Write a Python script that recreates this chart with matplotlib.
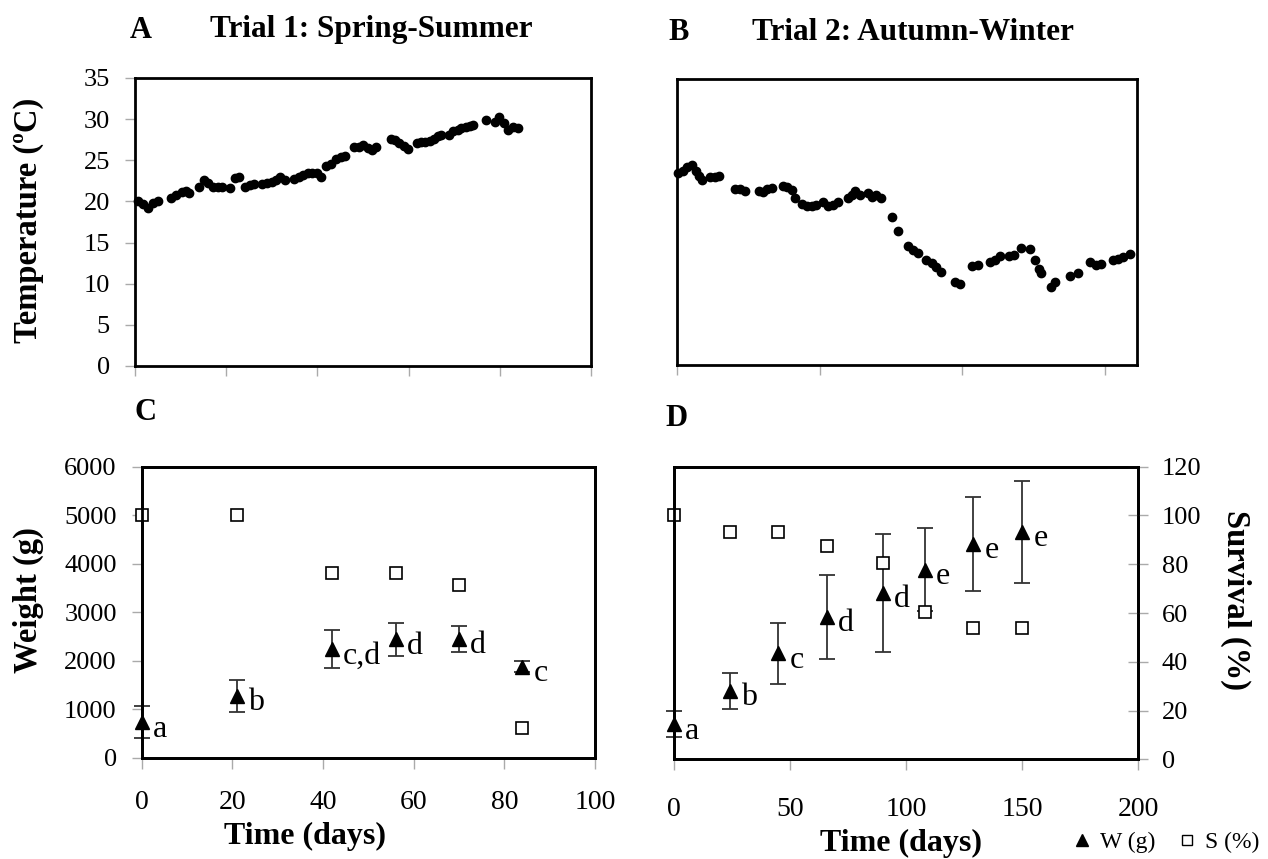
import matplotlib
matplotlib.use("Agg")
import matplotlib.pyplot as plt
from matplotlib.lines import Line2D

plt.rcParams['font.family'] = ['Liberation Serif', 'DejaVu Sans']

# Trial 1 temperature (day, degC)
t1_day = [0.7, 1.7, 2.9, 4.0, 5.0, 8.0, 9.1, 10.2, 11.1, 11.9, 14.0, 15.1, 16.0, 17.1,
          18.2, 19.0, 20.8, 21.9, 22.8, 24.1, 25.2, 26.1, 27.9, 29.0, 30.1, 31.0, 31.9,
          33.0, 34.8, 35.9, 36.8, 37.9, 38.9, 39.9, 40.8, 41.9, 42.9, 44.0, 45.1, 46.0,
          48.0, 49.1, 50.0, 51.1, 52.0, 52.9, 56.2, 57.1, 58.0, 58.9, 59.9, 61.9, 62.7,
          63.7, 64.6, 65.5, 66.4, 67.0, 68.8, 69.7, 70.8, 71.6, 72.6, 73.4, 74.2, 77.0,
          78.9, 79.9, 81.0, 81.9, 82.9, 84.0]
t1_temp = [20.0, 19.7, 19.2, 19.8, 20.1, 20.4, 20.8, 21.1, 21.3, 21.0, 21.8, 22.6, 22.2, 21.8,
           21.7, 21.8, 21.6, 22.8, 23.0, 21.8, 22.0, 22.1, 22.1, 22.2, 22.4, 22.6, 23.0,
           22.6, 22.7, 23.0, 23.2, 23.4, 23.4, 23.4, 23.0, 24.3, 24.6, 25.1, 25.4, 25.5,
           26.6, 26.6, 26.8, 26.5, 26.3, 26.6, 27.6, 27.5, 27.1, 26.7, 26.4, 27.1, 27.2,
           27.2, 27.4, 27.6, 27.9, 28.1, 28.1, 28.5, 28.7, 28.9, 29.1, 29.2, 29.3, 29.9,
           29.7, 30.2, 29.5, 28.7, 29.1, 28.9]

# Trial 2 temperature (day, degC)
t2_day = [0.6, 2.1, 3.7, 5.2, 6.8, 7.9, 8.7, 11.7, 13.4, 14.9, 20.4, 22.1, 23.9, 28.9,
          30.3, 31.5, 33.2, 37.1, 38.5, 40.2, 41.4, 43.7, 45.5, 47.2, 48.9, 51.3, 53.0,
          54.8, 56.5, 60.0, 61.5, 62.4, 64.1, 67.0, 68.5, 69.9, 71.4, 75.2, 77.5, 81.0,
          82.8, 84.5, 87.4, 89.2, 90.9, 92.4, 97.3, 99.1, 103.5, 105.5, 109.6, 111.3,
          113.1, 116.3, 118.0, 120.6, 123.8, 125.3, 126.8, 127.6, 131.1, 132.3, 137.5,
          140.4, 144.5, 146.9, 148.6, 152.7, 154.4, 156.2, 158.7]
t2_temp = [23.5, 23.8, 24.2, 24.5, 23.7, 23.1, 22.6, 23.0, 23.0, 23.1, 21.5, 21.5, 21.3, 21.3,
           21.2, 21.5, 21.6, 21.9, 21.8, 21.4, 20.4, 19.7, 19.4, 19.5, 19.6, 19.9, 19.4,
           19.6, 20.0, 20.4, 20.8, 21.3, 20.8, 21.1, 20.5, 20.8, 20.4, 18.1, 16.4, 14.6,
           14.1, 13.7, 12.9, 12.5, 12.0, 11.4, 10.2, 9.9, 12.1, 12.2, 12.6, 12.9,
           13.3, 13.3, 13.5, 14.3, 14.2, 12.9, 11.8, 11.3, 9.6, 10.1, 10.9,
           11.3, 12.6, 12.2, 12.4, 12.8, 13.0, 13.2, 13.6]

# Trial 1 growth and survival
c_day = [0, 21, 42, 56, 70, 84]
c_w = [740, 1280, 2240, 2445, 2455, 1880]
c_err = [330, 330, 395, 340, 270, 110]
c_s = [100, 100, 76.3, 76.3, 71.4, 12.2]
c_lab = ['a', 'b', 'c,d', 'd', 'd', 'c']

# Trial 2 growth and survival
d_day = [0, 24, 45, 66, 90, 108, 129, 150]
d_w = [720, 1400, 2175, 2920, 3410, 3890, 4420, 4660]
d_err = [270, 370, 630, 855, 1205, 845, 960, 1040]
d_s = [100, 93.3, 93.3, 87.5, 80.4, 60.3, 53.7, 53.7]
d_lab = ['a', 'b', 'c', 'd', 'd', 'e', 'e', 'e']

W, H = 1268, 859
fig = plt.figure(figsize=(W / 100, H / 100), dpi=100)


def box(x0, y0, x1, y1):
    return [x0 / W, 1 - y1 / H, (x1 - x0) / W, (y1 - y0) / H]


def style(ax):
    for s in ax.spines.values():
        s.set_linewidth(2)
        s.set_color('black')
    ax.tick_params(colors='black', labelsize=19, direction='out', length=7,
                   width=1, color='#aaaaaa', pad=11)


axA = fig.add_axes(box(135, 78, 591, 366))
axB = fig.add_axes(box(676.7, 79, 1136.7, 365))
axC = fig.add_axes(box(141.7, 466.7, 595, 758))
axD = fig.add_axes(box(674, 466.7, 1138.3, 759.3))

# A
axA.plot(t1_day, t1_temp, 'o', color='black', ms=6, clip_on=False)
axA.set_xlim(0, 100)
axA.set_ylim(0, 35)
axA.set_yticks(range(0, 36, 5))
axA.set_xticks(range(0, 101, 20))
axA.set_xticklabels([])
style(axA)

# B
axB.plot(t2_day, t2_temp, 'o', color='black', ms=6, clip_on=False)
axB.set_xlim(0, 161)
axB.set_ylim(0, 35)
axB.set_xticks([0, 50, 100, 150])
axB.set_xticklabels([])
axB.set_yticks([])
style(axB)


def growth(ax, days, w, err, surv, labs, xmax, xticks, xpad):
    ax2 = ax.twinx()
    eb = ax.errorbar(days, w, yerr=err, fmt='^', color='black', ecolor='#333333',
                     elinewidth=1.3, capsize=6, capthick=1.3, ms=10)
    for a in eb.get_children():
        a.set_clip_on(False)
    for x, y, t in zip(days, w, labs):
        ax.annotate(t, (x, y), xytext=(8, -5), textcoords='offset points',
                    ha='left', va='center', fontsize=23)
    ax2.plot(days, surv, 's', mfc='white', mec='black', mew=1.2, ms=8, clip_on=False)
    ax.set_xlim(0, xmax)
    ax.set_ylim(0, 6000)
    ax2.set_ylim(0, 120)
    ax.set_xticks(xticks)
    ax.set_yticks(range(0, 6001, 1000))
    ax2.set_yticks(range(0, 121, 20))
    style(ax)
    style(ax2)
    ax.tick_params(axis='x', labelsize=20, length=8, pad=xpad)
    return ax2


c2 = growth(axC, c_day, c_w, c_err, c_s, c_lab, 100, range(0, 101, 20), 15)
c2.set_yticks([])
d2 = growth(axD, d_day, d_w, d_err, d_s, d_lab, 200, [0, 50, 100, 150, 200], 19)
axD.set_yticklabels([])
axD.tick_params(axis='y', length=0)
d2.tick_params(axis='y', direction='inout', length=14, pad=10)

# titles and labels
fig.text(130 / W, 1 - 30 / H, 'A', fontsize=22, fontweight='bold', va='center')
fig.text(210 / W, 1 - 30 / H, 'Trial 1: Spring-Summer', fontsize=22.5, fontweight='bold', va='center')
fig.text(668 / W, 1 - 33 / H, 'B', fontsize=22, fontweight='bold', va='center')
fig.text(752 / W, 1 - 33 / H, 'Trial 2: Autumn-Winter', fontsize=22.5, fontweight='bold', va='center')
fig.text(135 / W, 1 - 412 / H, 'C', fontsize=22, fontweight='bold', va='center')
fig.text(665 / W, 1 - 418 / H, 'D', fontsize=22, fontweight='bold', va='center')

fig.text(28 / W, 1 - 220 / H, 'Temperature (ºC)', fontsize=23.5, fontweight='bold',
         rotation=90, ha='center', va='center')
fig.text(28 / W, 1 - 600 / H, 'Weight (g)', fontsize=23.5, fontweight='bold',
         rotation=90, ha='center', va='center')
fig.text(1236 / W, 1 - 600 / H, 'Survival (%)', fontsize=23.5, fontweight='bold',
         rotation=270, ha='center', va='center')
fig.text(305 / W, 1 - 836 / H, 'Time (days)', fontsize=23, fontweight='bold',
         ha='center', va='center')
fig.text(901 / W, 1 - 843 / H, 'Time (days)', fontsize=23, fontweight='bold',
         ha='center', va='center')

handles = [Line2D([], [], ls='none', marker='^', color='black', ms=8),
           Line2D([], [], ls='none', marker='s', mfc='white', mec='black', mew=1, ms=7)]
fig.legend(handles, ['W (g)', 'S (%)'], loc='center', bbox_to_anchor=(1166 / W, 1 - 842 / H),
           ncol=2, frameon=False, fontsize=17, handlelength=0.8, handletextpad=0.4,
           columnspacing=0.9, borderpad=0)

fig.savefig('out.png', dpi=100)
